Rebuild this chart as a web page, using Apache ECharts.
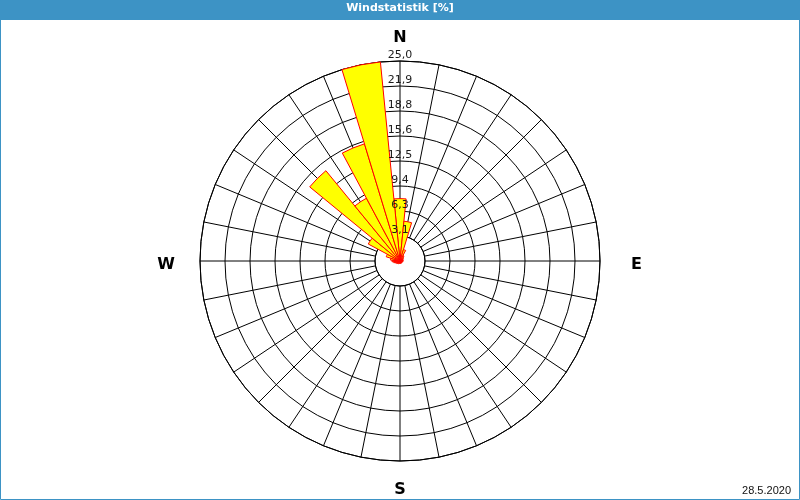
<!DOCTYPE html>
<html>
<head>
<meta charset="utf-8">
<script src="https://cdn.jsdelivr.net/npm/echarts@6/dist/echarts.min.js"></script>
<style>
html,body{margin:0;padding:0;background:#ffffff;}
#chart{width:800px;height:500px;}
</style>
</head>
<body>
<div id="chart"></div>
<script>
// Direction sectors (11.25° each, clockwise from North)
const directions = ['N','NzO','NNO','NOzN','NO','NOzO','ONO','OzN','O','OzS','OSO','SOzO','SO','SOzS','SSO','SzO',
                    'S','SzW','SSW','SWzS','SW','SWzW','WSW','WzS','W','WzN','WNW','NWzW','NW','NWzN','NNW','NzW'];
// Frequency [%] per sector
const frequency = [7.8, 5.0, 1.5, 0.8, 0.6, 0.5, 0.4, 0.4, 0.4, 0.3, 0.3, 0.3, 0.3, 0.3, 0.3, 0.3,
                   0.3, 0.3, 0.3, 0.4, 0.4, 0.5, 0.6, 0.8, 1.0, 1.2, 1.8, 4.5, 14.6, 8.9, 15.3, 25.2];
// Radial tick labels
const radialTicks = ['3,1','6,3','9,4','12,5','15,6','18,8','21,9','25,0'];
// Compass labels at angle ticks
const compassAngles = [0, 90, 180, 270];
const compassNames = ['N', 'E', 'S', 'W'];
const dateText = '28.5.2020';
const titleText = 'Windstatistik [%]';

const blue = '#3d93c5';
const center = [400, 261];
const FONT = 'DejaVu Sans';

const chart = echarts.init(document.getElementById('chart'), null, {renderer: 'canvas'});

const compassStyle = {fontFamily: FONT, fontSize: 16, fontWeight: 'bold', color: '#000'};

const option = {
  animation: false,
  backgroundColor: '#ffffff',
  graphic: [
    {type: 'rect', z: 0, shape: {x: 0, y: 0, width: 800, height: 20}, style: {fill: blue}},
    {type: 'rect', z: 0, shape: {x: 0.5, y: 0.5, width: 799, height: 499}, style: {fill: null, stroke: blue, lineWidth: 1}}
  ],
  title: [
    {text: titleText, left: 'center', top: 3, padding: 0,
     textStyle: {color: '#ffffff', fontSize: 11, fontWeight: 'bold', fontFamily: FONT}},
    {text: dateText, right: 9, bottom: 4, padding: 0,
     textStyle: {color: '#111111', fontSize: 11, fontWeight: 'normal', fontFamily: 'Liberation Sans'}}
  ],
  polar: [
    {center: center, radius: [25, 200]},
    {center: center, radius: [0, 200]},
    {center: center, radius: [25, 200]}
  ],
  angleAxis: [
    {
      polarIndex: 0, type: 'value', min: 0, max: 360, interval: 11.25,
      startAngle: 90, clockwise: true, z: 0,
      axisLine: {show: true, lineStyle: {color: '#000', width: 1}},
      axisTick: {show: false},
      splitLine: {show: true, lineStyle: {color: '#000', width: 1}},
      axisLabel: {
        show: true, margin: 15, fontFamily: FONT, fontSize: 16, fontWeight: 'bold', color: '#000',
        formatter: function (v) {
          const i = compassAngles.indexOf(v);
          if (i < 0) return '';
          const n = compassNames[i];
          return '{' + n.toLowerCase() + '|' + n + '}';
        },
        rich: {
          n: Object.assign({}, compassStyle),
          s: Object.assign({padding: [6, 0, 0, 0]}, compassStyle),
          w: Object.assign({padding: [8, 10, 0, 0]}, compassStyle),
          e: Object.assign({padding: [8, 0, 0, 16]}, compassStyle)
        }
      }
    },
    {
      polarIndex: 1, type: 'category', data: directions, boundaryGap: true,
      startAngle: 95.625, clockwise: true, show: false
    },
    {
      polarIndex: 2, type: 'value', min: 0, max: 360, startAngle: 90, clockwise: true, show: false
    }
  ],
  radiusAxis: [
    {
      polarIndex: 0, type: 'value', min: 3.125, max: 25, interval: 3.125, z: 0,
      axisLine: {show: false}, axisTick: {show: false}, axisLabel: {show: false},
      splitLine: {show: true, lineStyle: {color: '#000', width: 1}}
    },
    {
      polarIndex: 1, type: 'value', min: 0, max: 25, show: false
    },
    {
      polarIndex: 2, type: 'value', min: 3.125, max: 25, interval: 3.125, z: 10,
      axisLine: {show: false}, axisTick: {show: false}, splitLine: {show: false},
      axisLabel: {
        show: true, margin: 0, align: 'center', verticalAlign: 'bottom',
        showMinLabel: true, showMaxLabel: true,
        fontFamily: FONT, fontSize: 11, color: '#1a1a1a',
        formatter: function (v) {
          return radialTicks[Math.round(v / 3.125) - 1] || '';
        }
      }
    }
  ],
  series: [
    {
      type: 'bar', coordinateSystem: 'polar', polarIndex: 1,
      data: frequency, barCategoryGap: '0%', z: 5,
      itemStyle: {color: '#ffff00', borderColor: '#ff0000', borderWidth: 1}
    }
  ]
};
chart.setOption(option);
</script>
</body>
</html>
